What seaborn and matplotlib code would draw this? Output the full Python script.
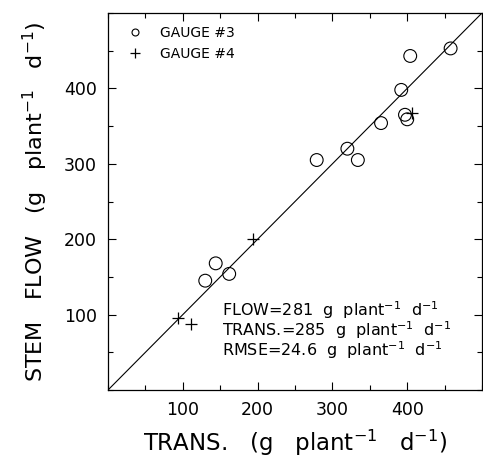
import matplotlib
matplotlib.use("Agg")
import matplotlib.pyplot as plt
from matplotlib.lines import Line2D
from matplotlib.ticker import MultipleLocator
import seaborn as sns
import pandas as pd

# Data
g3_trans = [130, 144, 162, 279, 320, 334, 365, 392, 404, 397, 400, 458]
g3_flow = [145, 168, 154, 305, 320, 305, 354, 398, 443, 365, 359, 453]
g4_trans = [94, 111, 194, 406]
g4_flow = [96, 88, 200, 367]
line_x = [0, 500]
line_y = [0, 500]
x_ticks = [100, 200, 300, 400]
y_ticks = [100, 200, 300, 400]
stats_lines = [r"FLOW=281  g  plant$^{-1}$  d$^{-1}$",
               r"TRANS.=285  g  plant$^{-1}$  d$^{-1}$",
               r"RMSE=24.6  g  plant$^{-1}$  d$^{-1}$"]
stats_y = [98, 71.5, 45]

sns.set_style("ticks")
plt.rcParams['font.family'] = ['DejaVu Sans']
plt.rcParams['mathtext.fontset'] = 'dejavusans'
for k in ["text.color", "axes.labelcolor", "xtick.color", "ytick.color",
          "axes.edgecolor"]:
    plt.rcParams[k] = "black"

fig = plt.figure(figsize=(4.83, 4.62), dpi=100)
ax = fig.add_axes([0.2236, 0.1558, 0.7744, 0.8161])

df3 = pd.DataFrame({"x": g3_trans, "y": g3_flow})
df4 = pd.DataFrame({"x": g4_trans, "y": g4_flow})
dl = pd.DataFrame({"x": line_x, "y": line_y})

sns.lineplot(data=dl, x="x", y="y", ax=ax, color="black", lw=0.8)
sns.scatterplot(data=df3, x="x", y="y", ax=ax, marker="o", s=85,
                facecolor="none", edgecolor="black", linewidth=0.8)
sns.scatterplot(data=df4, x="x", y="y", ax=ax, marker="+", s=65,
                color="black", linewidth=0.9)

ax.set_xlim(0, 500)
ax.set_ylim(0, 500)
ax.set_xticks(x_ticks)
ax.set_yticks(y_ticks)
ax.xaxis.set_minor_locator(MultipleLocator(50))
ax.yaxis.set_minor_locator(MultipleLocator(50))
ax.tick_params(which="both", direction="in", top=True, right=True,
               width=0.8, labelsize=12.5, pad=8)
ax.tick_params(which="major", length=6)
ax.tick_params(which="minor", length=3.5)
for s in ax.spines.values():
    s.set_linewidth(0.9)

ax.set_xlabel(r"TRANS.   (g   plant$^{-1}$   d$^{-1}$)", fontsize=16.5, labelpad=6)
ax.set_ylabel(r"STEM   FLOW   (g   plant$^{-1}$   d$^{-1}$)", fontsize=16,
              labelpad=10)

handles = [Line2D([], [], marker="o", ls="none", mfc="none", mec="black",
                  ms=5, mew=0.8, label="GAUGE #3"),
           Line2D([], [], marker="+", ls="none", color="black",
                  ms=7, mew=0.9, label="GAUGE #4")]
ax.legend(handles=handles, loc="upper left", frameon=False, fontsize=10,
          handlelength=1.0, handletextpad=1.3, borderaxespad=0.0,
          labelspacing=0.5, bbox_to_anchor=(0.04, 0.98))

for t, yv in zip(stats_lines, stats_y):
    ax.text(152, yv, t, fontsize=11.5, va="baseline", ha="left")

fig.savefig("out.png", dpi=100)
